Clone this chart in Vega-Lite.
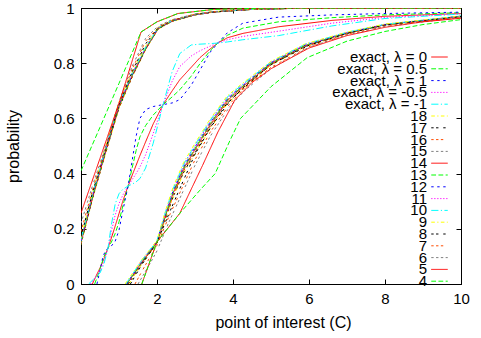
{
"$schema":"https://vega.github.io/schema/vega-lite/v6.json",
"width":380,"height":276,
"autosize":{"type":"none"},
"padding":{"left":81,"top":8,"right":20,"bottom":54},
"data":{"values":[
{"s":"exact, λ = 0","g":"B","x":0.3,"y":0},{"s":"exact, λ = 0","g":"B","x":0.4,"y":0.03},{"s":"exact, λ = 0","g":"B","x":0.5,"y":0.058},{"s":"exact, λ = 0","g":"B","x":0.6,"y":0.09},{"s":"exact, λ = 0","g":"B","x":0.71,"y":0.13},{"s":"exact, λ = 0","g":"B","x":0.8,"y":0.167},{"s":"exact, λ = 0","g":"B","x":0.9,"y":0.21},{"s":"exact, λ = 0","g":"B","x":1.0,"y":0.255},{"s":"exact, λ = 0","g":"B","x":1.1,"y":0.3},{"s":"exact, λ = 0","g":"B","x":1.24,"y":0.355},{"s":"exact, λ = 0","g":"B","x":1.35,"y":0.395},{"s":"exact, λ = 0","g":"B","x":1.45,"y":0.43},{"s":"exact, λ = 0","g":"B","x":1.55,"y":0.465},{"s":"exact, λ = 0","g":"B","x":1.7,"y":0.515},{"s":"exact, λ = 0","g":"B","x":1.9,"y":0.58},{"s":"exact, λ = 0","g":"B","x":2.16,"y":0.65},{"s":"exact, λ = 0","g":"B","x":2.4,"y":0.7},{"s":"exact, λ = 0","g":"B","x":2.6,"y":0.74},{"s":"exact, λ = 0","g":"B","x":2.9,"y":0.785},{"s":"exact, λ = 0","g":"B","x":3.13,"y":0.82},{"s":"exact, λ = 0","g":"B","x":3.4,"y":0.852},{"s":"exact, λ = 0","g":"B","x":3.6,"y":0.873},{"s":"exact, λ = 0","g":"B","x":3.85,"y":0.892},{"s":"exact, λ = 0","g":"B","x":4.26,"y":0.908},{"s":"exact, λ = 0","g":"B","x":5.2,"y":0.932},{"s":"exact, λ = 0","g":"B","x":6.6,"y":0.955},{"s":"exact, λ = 0","g":"B","x":8,"y":0.97},{"s":"exact, λ = 0","g":"B","x":10,"y":0.98},
{"s":"exact, λ = 0.5","g":"B","x":0.36,"y":0},{"s":"exact, λ = 0.5","g":"B","x":0.4,"y":0.015},{"s":"exact, λ = 0.5","g":"B","x":0.5,"y":0.054},{"s":"exact, λ = 0.5","g":"B","x":0.6,"y":0.098},{"s":"exact, λ = 0.5","g":"B","x":0.71,"y":0.13},{"s":"exact, λ = 0.5","g":"B","x":0.8,"y":0.152},{"s":"exact, λ = 0.5","g":"B","x":0.9,"y":0.183},{"s":"exact, λ = 0.5","g":"B","x":1.0,"y":0.225},{"s":"exact, λ = 0.5","g":"B","x":1.1,"y":0.283},{"s":"exact, λ = 0.5","g":"B","x":1.24,"y":0.355},{"s":"exact, λ = 0.5","g":"B","x":1.35,"y":0.423},{"s":"exact, λ = 0.5","g":"B","x":1.45,"y":0.483},{"s":"exact, λ = 0.5","g":"B","x":1.55,"y":0.533},{"s":"exact, λ = 0.5","g":"B","x":1.7,"y":0.574},{"s":"exact, λ = 0.5","g":"B","x":1.9,"y":0.612},{"s":"exact, λ = 0.5","g":"B","x":2.16,"y":0.65},{"s":"exact, λ = 0.5","g":"B","x":2.4,"y":0.678},{"s":"exact, λ = 0.5","g":"B","x":2.6,"y":0.704},{"s":"exact, λ = 0.5","g":"B","x":2.9,"y":0.753},{"s":"exact, λ = 0.5","g":"B","x":3.13,"y":0.798},{"s":"exact, λ = 0.5","g":"B","x":3.4,"y":0.846},{"s":"exact, λ = 0.5","g":"B","x":3.6,"y":0.873},{"s":"exact, λ = 0.5","g":"B","x":3.85,"y":0.901},{"s":"exact, λ = 0.5","g":"B","x":4.26,"y":0.927},{"s":"exact, λ = 0.5","g":"B","x":5.2,"y":0.95},{"s":"exact, λ = 0.5","g":"B","x":6.6,"y":0.965},{"s":"exact, λ = 0.5","g":"B","x":8,"y":0.975},{"s":"exact, λ = 0.5","g":"B","x":10,"y":0.983},
{"s":"exact, λ = 1","g":"B","x":0.42,"y":0},{"s":"exact, λ = 1","g":"B","x":0.5,"y":0.05},{"s":"exact, λ = 1","g":"B","x":0.58,"y":0.1},{"s":"exact, λ = 1","g":"B","x":0.65,"y":0.122},{"s":"exact, λ = 1","g":"B","x":0.71,"y":0.13},{"s":"exact, λ = 1","g":"B","x":0.8,"y":0.138},{"s":"exact, λ = 1","g":"B","x":0.9,"y":0.155},{"s":"exact, λ = 1","g":"B","x":1.0,"y":0.195},{"s":"exact, λ = 1","g":"B","x":1.1,"y":0.265},{"s":"exact, λ = 1","g":"B","x":1.24,"y":0.355},{"s":"exact, λ = 1","g":"B","x":1.35,"y":0.45},{"s":"exact, λ = 1","g":"B","x":1.45,"y":0.535},{"s":"exact, λ = 1","g":"B","x":1.55,"y":0.6},{"s":"exact, λ = 1","g":"B","x":1.7,"y":0.632},{"s":"exact, λ = 1","g":"B","x":1.9,"y":0.643},{"s":"exact, λ = 1","g":"B","x":2.16,"y":0.65},{"s":"exact, λ = 1","g":"B","x":2.4,"y":0.656},{"s":"exact, λ = 1","g":"B","x":2.6,"y":0.668},{"s":"exact, λ = 1","g":"B","x":2.9,"y":0.72},{"s":"exact, λ = 1","g":"B","x":3.13,"y":0.775},{"s":"exact, λ = 1","g":"B","x":3.4,"y":0.84},{"s":"exact, λ = 1","g":"B","x":3.6,"y":0.873},{"s":"exact, λ = 1","g":"B","x":3.85,"y":0.91},{"s":"exact, λ = 1","g":"B","x":4.26,"y":0.945},{"s":"exact, λ = 1","g":"B","x":5.2,"y":0.967},{"s":"exact, λ = 1","g":"B","x":6.6,"y":0.975},{"s":"exact, λ = 1","g":"B","x":8,"y":0.98},{"s":"exact, λ = 1","g":"B","x":10,"y":0.985},
{"s":"exact, λ = -0.5","g":"B","x":0.25,"y":0},{"s":"exact, λ = -0.5","g":"B","x":0.35,"y":0.018},{"s":"exact, λ = -0.5","g":"B","x":0.5,"y":0.049},{"s":"exact, λ = -0.5","g":"B","x":0.6,"y":0.08},{"s":"exact, λ = -0.5","g":"B","x":0.71,"y":0.13},{"s":"exact, λ = -0.5","g":"B","x":0.8,"y":0.191},{"s":"exact, λ = -0.5","g":"B","x":0.9,"y":0.25},{"s":"exact, λ = -0.5","g":"B","x":1.0,"y":0.291},{"s":"exact, λ = -0.5","g":"B","x":1.1,"y":0.322},{"s":"exact, λ = -0.5","g":"B","x":1.24,"y":0.355},{"s":"exact, λ = -0.5","g":"B","x":1.35,"y":0.379},{"s":"exact, λ = -0.5","g":"B","x":1.45,"y":0.4},{"s":"exact, λ = -0.5","g":"B","x":1.55,"y":0.424},{"s":"exact, λ = -0.5","g":"B","x":1.7,"y":0.468},{"s":"exact, λ = -0.5","g":"B","x":1.9,"y":0.545},{"s":"exact, λ = -0.5","g":"B","x":2.16,"y":0.65},{"s":"exact, λ = -0.5","g":"B","x":2.4,"y":0.735},{"s":"exact, λ = -0.5","g":"B","x":2.6,"y":0.788},{"s":"exact, λ = -0.5","g":"B","x":2.9,"y":0.826},{"s":"exact, λ = -0.5","g":"B","x":3.13,"y":0.845},{"s":"exact, λ = -0.5","g":"B","x":3.4,"y":0.862},{"s":"exact, λ = -0.5","g":"B","x":3.6,"y":0.873},{"s":"exact, λ = -0.5","g":"B","x":3.85,"y":0.885},{"s":"exact, λ = -0.5","g":"B","x":4.26,"y":0.897},{"s":"exact, λ = -0.5","g":"B","x":5.2,"y":0.916},{"s":"exact, λ = -0.5","g":"B","x":6.6,"y":0.945},{"s":"exact, λ = -0.5","g":"B","x":8,"y":0.966},{"s":"exact, λ = -0.5","g":"B","x":10,"y":0.979},
{"s":"exact, λ = -1","g":"B","x":0.2,"y":0},{"s":"exact, λ = -1","g":"B","x":0.35,"y":0.02},{"s":"exact, λ = -1","g":"B","x":0.5,"y":0.04},{"s":"exact, λ = -1","g":"B","x":0.6,"y":0.07},{"s":"exact, λ = -1","g":"B","x":0.71,"y":0.13},{"s":"exact, λ = -1","g":"B","x":0.8,"y":0.215},{"s":"exact, λ = -1","g":"B","x":0.9,"y":0.29},{"s":"exact, λ = -1","g":"B","x":1.0,"y":0.327},{"s":"exact, λ = -1","g":"B","x":1.1,"y":0.343},{"s":"exact, λ = -1","g":"B","x":1.24,"y":0.355},{"s":"exact, λ = -1","g":"B","x":1.35,"y":0.362},{"s":"exact, λ = -1","g":"B","x":1.45,"y":0.37},{"s":"exact, λ = -1","g":"B","x":1.55,"y":0.382},{"s":"exact, λ = -1","g":"B","x":1.7,"y":0.42},{"s":"exact, λ = -1","g":"B","x":1.9,"y":0.51},{"s":"exact, λ = -1","g":"B","x":2.16,"y":0.65},{"s":"exact, λ = -1","g":"B","x":2.4,"y":0.77},{"s":"exact, λ = -1","g":"B","x":2.6,"y":0.835},{"s":"exact, λ = -1","g":"B","x":2.9,"y":0.866},{"s":"exact, λ = -1","g":"B","x":3.13,"y":0.869},{"s":"exact, λ = -1","g":"B","x":3.4,"y":0.871},{"s":"exact, λ = -1","g":"B","x":3.6,"y":0.873},{"s":"exact, λ = -1","g":"B","x":3.85,"y":0.877},{"s":"exact, λ = -1","g":"B","x":4.26,"y":0.885},{"s":"exact, λ = -1","g":"B","x":5.2,"y":0.9},{"s":"exact, λ = -1","g":"B","x":6.6,"y":0.935},{"s":"exact, λ = -1","g":"B","x":8,"y":0.962},{"s":"exact, λ = -1","g":"B","x":10,"y":0.978},

{"s":"18","g":"A","x":0,"y":0.143},{"s":"18","g":"A","x":0.3,"y":0.306},{"s":"18","g":"A","x":0.65,"y":0.474},{"s":"18","g":"A","x":1.0,"y":0.636},{"s":"18","g":"A","x":1.35,"y":0.751},{"s":"18","g":"A","x":1.7,"y":0.849},{"s":"18","g":"A","x":2.03,"y":0.923},{"s":"18","g":"A","x":2.4,"y":0.951},{"s":"18","g":"A","x":3,"y":0.975},{"s":"18","g":"A","x":3.5,"y":0.985},{"s":"18","g":"A","x":4.5,"y":0.995},{"s":"18","g":"A","x":6,"y":1},{"s":"18","g":"A","x":10,"y":1},
{"s":"18","g":"C","x":1.26,"y":0},{"s":"18","g":"C","x":1.6,"y":0.072},{"s":"18","g":"C","x":2.0,"y":0.148},{"s":"18","g":"C","x":2.2,"y":0.226},{"s":"18","g":"C","x":2.42,"y":0.311},{"s":"18","g":"C","x":2.7,"y":0.401},{"s":"18","g":"C","x":3.0,"y":0.471},{"s":"18","g":"C","x":3.4,"y":0.563},{"s":"18","g":"C","x":3.84,"y":0.651},{"s":"18","g":"C","x":4.2,"y":0.699},{"s":"18","g":"C","x":5,"y":0.793},{"s":"18","g":"C","x":5.9,"y":0.86},{"s":"18","g":"C","x":7,"y":0.907},{"s":"18","g":"C","x":8,"y":0.938},{"s":"18","g":"C","x":10,"y":0.969},

{"s":"17","g":"A","x":0,"y":0.145},{"s":"17","g":"A","x":0.3,"y":0.308},{"s":"17","g":"A","x":0.65,"y":0.476},{"s":"17","g":"A","x":1.0,"y":0.638},{"s":"17","g":"A","x":1.35,"y":0.752},{"s":"17","g":"A","x":1.7,"y":0.85},{"s":"17","g":"A","x":2.03,"y":0.924},{"s":"17","g":"A","x":2.4,"y":0.952},{"s":"17","g":"A","x":3,"y":0.975},{"s":"17","g":"A","x":3.5,"y":0.985},{"s":"17","g":"A","x":4.5,"y":0.995},{"s":"17","g":"A","x":6,"y":1},{"s":"17","g":"A","x":10,"y":1},
{"s":"17","g":"C","x":1.24,"y":0},{"s":"17","g":"C","x":1.6,"y":0.074},{"s":"17","g":"C","x":2.0,"y":0.149},{"s":"17","g":"C","x":2.2,"y":0.229},{"s":"17","g":"C","x":2.42,"y":0.315},{"s":"17","g":"C","x":2.7,"y":0.405},{"s":"17","g":"C","x":3.0,"y":0.475},{"s":"17","g":"C","x":3.4,"y":0.567},{"s":"17","g":"C","x":3.84,"y":0.654},{"s":"17","g":"C","x":4.2,"y":0.701},{"s":"17","g":"C","x":5,"y":0.795},{"s":"17","g":"C","x":5.9,"y":0.861},{"s":"17","g":"C","x":7,"y":0.908},{"s":"17","g":"C","x":8,"y":0.939},{"s":"17","g":"C","x":10,"y":0.969},

{"s":"16","g":"A","x":0,"y":0.147},{"s":"16","g":"A","x":0.3,"y":0.31},{"s":"16","g":"A","x":0.65,"y":0.478},{"s":"16","g":"A","x":1.0,"y":0.64},{"s":"16","g":"A","x":1.35,"y":0.753},{"s":"16","g":"A","x":1.7,"y":0.85},{"s":"16","g":"A","x":2.03,"y":0.924},{"s":"16","g":"A","x":2.4,"y":0.952},{"s":"16","g":"A","x":3,"y":0.975},{"s":"16","g":"A","x":3.5,"y":0.986},{"s":"16","g":"A","x":4.5,"y":0.995},{"s":"16","g":"A","x":6,"y":1},{"s":"16","g":"A","x":10,"y":1},
{"s":"16","g":"C","x":1.23,"y":0},{"s":"16","g":"C","x":1.6,"y":0.076},{"s":"16","g":"C","x":2.0,"y":0.15},{"s":"16","g":"C","x":2.2,"y":0.232},{"s":"16","g":"C","x":2.42,"y":0.319},{"s":"16","g":"C","x":2.7,"y":0.409},{"s":"16","g":"C","x":3.0,"y":0.479},{"s":"16","g":"C","x":3.4,"y":0.57},{"s":"16","g":"C","x":3.84,"y":0.657},{"s":"16","g":"C","x":4.2,"y":0.703},{"s":"16","g":"C","x":5,"y":0.796},{"s":"16","g":"C","x":5.9,"y":0.862},{"s":"16","g":"C","x":7,"y":0.908},{"s":"16","g":"C","x":8,"y":0.939},{"s":"16","g":"C","x":10,"y":0.969},

{"s":"15","g":"A","x":0,"y":0.149},{"s":"15","g":"A","x":0.3,"y":0.312},{"s":"15","g":"A","x":0.65,"y":0.48},{"s":"15","g":"A","x":1.0,"y":0.642},{"s":"15","g":"A","x":1.35,"y":0.755},{"s":"15","g":"A","x":1.7,"y":0.851},{"s":"15","g":"A","x":2.03,"y":0.925},{"s":"15","g":"A","x":2.4,"y":0.952},{"s":"15","g":"A","x":3,"y":0.976},{"s":"15","g":"A","x":3.5,"y":0.986},{"s":"15","g":"A","x":4.5,"y":0.995},{"s":"15","g":"A","x":6,"y":1},{"s":"15","g":"A","x":10,"y":1},
{"s":"15","g":"C","x":1.22,"y":0},{"s":"15","g":"C","x":1.6,"y":0.077},{"s":"15","g":"C","x":2.0,"y":0.151},{"s":"15","g":"C","x":2.2,"y":0.235},{"s":"15","g":"C","x":2.42,"y":0.323},{"s":"15","g":"C","x":2.7,"y":0.413},{"s":"15","g":"C","x":3.0,"y":0.483},{"s":"15","g":"C","x":3.4,"y":0.574},{"s":"15","g":"C","x":3.84,"y":0.66},{"s":"15","g":"C","x":4.2,"y":0.706},{"s":"15","g":"C","x":5,"y":0.798},{"s":"15","g":"C","x":5.9,"y":0.863},{"s":"15","g":"C","x":7,"y":0.909},{"s":"15","g":"C","x":8,"y":0.939},{"s":"15","g":"C","x":10,"y":0.97},

{"s":"14","g":"A","x":0,"y":0.151},{"s":"14","g":"A","x":0.3,"y":0.314},{"s":"14","g":"A","x":0.65,"y":0.482},{"s":"14","g":"A","x":1.0,"y":0.644},{"s":"14","g":"A","x":1.35,"y":0.756},{"s":"14","g":"A","x":1.7,"y":0.852},{"s":"14","g":"A","x":2.03,"y":0.926},{"s":"14","g":"A","x":2.4,"y":0.953},{"s":"14","g":"A","x":3,"y":0.976},{"s":"14","g":"A","x":3.5,"y":0.986},{"s":"14","g":"A","x":4.5,"y":0.995},{"s":"14","g":"A","x":6,"y":1},{"s":"14","g":"A","x":10,"y":1},
{"s":"14","g":"C","x":1.21,"y":0},{"s":"14","g":"C","x":1.6,"y":0.079},{"s":"14","g":"C","x":2.0,"y":0.152},{"s":"14","g":"C","x":2.2,"y":0.238},{"s":"14","g":"C","x":2.42,"y":0.327},{"s":"14","g":"C","x":2.7,"y":0.417},{"s":"14","g":"C","x":3.0,"y":0.487},{"s":"14","g":"C","x":3.4,"y":0.577},{"s":"14","g":"C","x":3.84,"y":0.663},{"s":"14","g":"C","x":4.2,"y":0.708},{"s":"14","g":"C","x":5,"y":0.799},{"s":"14","g":"C","x":5.9,"y":0.864},{"s":"14","g":"C","x":7,"y":0.91},{"s":"14","g":"C","x":8,"y":0.94},{"s":"14","g":"C","x":10,"y":0.97},

{"s":"13","g":"A","x":0,"y":0.153},{"s":"13","g":"A","x":0.3,"y":0.316},{"s":"13","g":"A","x":0.65,"y":0.484},{"s":"13","g":"A","x":1.0,"y":0.646},{"s":"13","g":"A","x":1.35,"y":0.758},{"s":"13","g":"A","x":1.7,"y":0.853},{"s":"13","g":"A","x":2.03,"y":0.926},{"s":"13","g":"A","x":2.4,"y":0.953},{"s":"13","g":"A","x":3,"y":0.976},{"s":"13","g":"A","x":3.5,"y":0.986},{"s":"13","g":"A","x":4.5,"y":0.995},{"s":"13","g":"A","x":6,"y":1},{"s":"13","g":"A","x":10,"y":1},
{"s":"13","g":"C","x":1.2,"y":0},{"s":"13","g":"C","x":1.6,"y":0.08},{"s":"13","g":"C","x":2.0,"y":0.153},{"s":"13","g":"C","x":2.2,"y":0.241},{"s":"13","g":"C","x":2.42,"y":0.331},{"s":"13","g":"C","x":2.7,"y":0.421},{"s":"13","g":"C","x":3.0,"y":0.491},{"s":"13","g":"C","x":3.4,"y":0.581},{"s":"13","g":"C","x":3.84,"y":0.666},{"s":"13","g":"C","x":4.2,"y":0.711},{"s":"13","g":"C","x":5,"y":0.8},{"s":"13","g":"C","x":5.9,"y":0.865},{"s":"13","g":"C","x":7,"y":0.91},{"s":"13","g":"C","x":8,"y":0.94},{"s":"13","g":"C","x":10,"y":0.97},

{"s":"12","g":"A","x":0,"y":0.156},{"s":"12","g":"A","x":0.3,"y":0.319},{"s":"12","g":"A","x":0.65,"y":0.487},{"s":"12","g":"A","x":1.0,"y":0.649},{"s":"12","g":"A","x":1.35,"y":0.76},{"s":"12","g":"A","x":1.7,"y":0.855},{"s":"12","g":"A","x":2.03,"y":0.927},{"s":"12","g":"A","x":2.4,"y":0.954},{"s":"12","g":"A","x":3,"y":0.976},{"s":"12","g":"A","x":3.5,"y":0.986},{"s":"12","g":"A","x":4.5,"y":0.995},{"s":"12","g":"A","x":6,"y":1},{"s":"12","g":"A","x":10,"y":1},
{"s":"12","g":"C","x":1.2,"y":0},{"s":"12","g":"C","x":1.6,"y":0.082},{"s":"12","g":"C","x":2.0,"y":0.154},{"s":"12","g":"C","x":2.2,"y":0.244},{"s":"12","g":"C","x":2.42,"y":0.335},{"s":"12","g":"C","x":2.7,"y":0.425},{"s":"12","g":"C","x":3.0,"y":0.495},{"s":"12","g":"C","x":3.4,"y":0.585},{"s":"12","g":"C","x":3.84,"y":0.669},{"s":"12","g":"C","x":4.2,"y":0.713},{"s":"12","g":"C","x":5,"y":0.802},{"s":"12","g":"C","x":5.9,"y":0.866},{"s":"12","g":"C","x":7,"y":0.911},{"s":"12","g":"C","x":8,"y":0.94},{"s":"12","g":"C","x":10,"y":0.97},

{"s":"11","g":"A","x":0,"y":0.159},{"s":"11","g":"A","x":0.3,"y":0.322},{"s":"11","g":"A","x":0.65,"y":0.49},{"s":"11","g":"A","x":1.0,"y":0.652},{"s":"11","g":"A","x":1.35,"y":0.762},{"s":"11","g":"A","x":1.7,"y":0.857},{"s":"11","g":"A","x":2.03,"y":0.928},{"s":"11","g":"A","x":2.4,"y":0.954},{"s":"11","g":"A","x":3,"y":0.977},{"s":"11","g":"A","x":3.5,"y":0.986},{"s":"11","g":"A","x":4.5,"y":0.995},{"s":"11","g":"A","x":6,"y":1},{"s":"11","g":"A","x":10,"y":1},
{"s":"11","g":"C","x":1.19,"y":0},{"s":"11","g":"C","x":1.6,"y":0.084},{"s":"11","g":"C","x":2.0,"y":0.155},{"s":"11","g":"C","x":2.2,"y":0.247},{"s":"11","g":"C","x":2.42,"y":0.339},{"s":"11","g":"C","x":2.7,"y":0.429},{"s":"11","g":"C","x":3.0,"y":0.499},{"s":"11","g":"C","x":3.4,"y":0.588},{"s":"11","g":"C","x":3.84,"y":0.672},{"s":"11","g":"C","x":4.2,"y":0.715},{"s":"11","g":"C","x":5,"y":0.803},{"s":"11","g":"C","x":5.9,"y":0.867},{"s":"11","g":"C","x":7,"y":0.911},{"s":"11","g":"C","x":8,"y":0.941},{"s":"11","g":"C","x":10,"y":0.97},

{"s":"10","g":"A","x":0,"y":0.163},{"s":"10","g":"A","x":0.3,"y":0.326},{"s":"10","g":"A","x":0.65,"y":0.494},{"s":"10","g":"A","x":1.0,"y":0.656},{"s":"10","g":"A","x":1.35,"y":0.765},{"s":"10","g":"A","x":1.7,"y":0.858},{"s":"10","g":"A","x":2.03,"y":0.929},{"s":"10","g":"A","x":2.4,"y":0.955},{"s":"10","g":"A","x":3,"y":0.977},{"s":"10","g":"A","x":3.5,"y":0.987},{"s":"10","g":"A","x":4.5,"y":0.995},{"s":"10","g":"A","x":6,"y":1},{"s":"10","g":"A","x":10,"y":1},
{"s":"10","g":"C","x":1.18,"y":0},{"s":"10","g":"C","x":1.6,"y":0.086},{"s":"10","g":"C","x":2.0,"y":0.157},{"s":"10","g":"C","x":2.2,"y":0.251},{"s":"10","g":"C","x":2.42,"y":0.344},{"s":"10","g":"C","x":2.7,"y":0.434},{"s":"10","g":"C","x":3.0,"y":0.504},{"s":"10","g":"C","x":3.4,"y":0.593},{"s":"10","g":"C","x":3.84,"y":0.676},{"s":"10","g":"C","x":4.2,"y":0.718},{"s":"10","g":"C","x":5,"y":0.805},{"s":"10","g":"C","x":5.9,"y":0.869},{"s":"10","g":"C","x":7,"y":0.912},{"s":"10","g":"C","x":8,"y":0.941},{"s":"10","g":"C","x":10,"y":0.971},

{"s":"9","g":"A","x":0,"y":0.168},{"s":"9","g":"A","x":0.3,"y":0.331},{"s":"9","g":"A","x":0.65,"y":0.499},{"s":"9","g":"A","x":1.0,"y":0.661},{"s":"9","g":"A","x":1.35,"y":0.768},{"s":"9","g":"A","x":1.7,"y":0.861},{"s":"9","g":"A","x":2.03,"y":0.931},{"s":"9","g":"A","x":2.4,"y":0.956},{"s":"9","g":"A","x":3,"y":0.978},{"s":"9","g":"A","x":3.5,"y":0.987},{"s":"9","g":"A","x":4.5,"y":0.995},{"s":"9","g":"A","x":6,"y":1},{"s":"9","g":"A","x":10,"y":1},
{"s":"9","g":"C","x":1.16,"y":0},{"s":"9","g":"C","x":1.6,"y":0.088},{"s":"9","g":"C","x":2.0,"y":0.158},{"s":"9","g":"C","x":2.2,"y":0.255},{"s":"9","g":"C","x":2.42,"y":0.35},{"s":"9","g":"C","x":2.7,"y":0.44},{"s":"9","g":"C","x":3.0,"y":0.51},{"s":"9","g":"C","x":3.4,"y":0.598},{"s":"9","g":"C","x":3.84,"y":0.68},{"s":"9","g":"C","x":4.2,"y":0.722},{"s":"9","g":"C","x":5,"y":0.807},{"s":"9","g":"C","x":5.9,"y":0.87},{"s":"9","g":"C","x":7,"y":0.913},{"s":"9","g":"C","x":8,"y":0.942},{"s":"9","g":"C","x":10,"y":0.971},

{"s":"8","g":"A","x":0,"y":0.172},{"s":"8","g":"A","x":0.3,"y":0.33},{"s":"8","g":"A","x":0.65,"y":0.49},{"s":"8","g":"A","x":1.0,"y":0.65},{"s":"8","g":"A","x":1.35,"y":0.77},{"s":"8","g":"A","x":1.7,"y":0.87},{"s":"8","g":"A","x":2.03,"y":0.928},{"s":"8","g":"A","x":2.4,"y":0.955},{"s":"8","g":"A","x":3,"y":0.977},{"s":"8","g":"A","x":3.5,"y":0.986},{"s":"8","g":"A","x":4.5,"y":0.995},{"s":"8","g":"A","x":6,"y":1},{"s":"8","g":"A","x":10,"y":1},
{"s":"8","g":"C","x":1.3,"y":0},{"s":"8","g":"C","x":1.6,"y":0.07},{"s":"8","g":"C","x":2.0,"y":0.15},{"s":"8","g":"C","x":2.3,"y":0.25},{"s":"8","g":"C","x":2.55,"y":0.33},{"s":"8","g":"C","x":3.0,"y":0.47},{"s":"8","g":"C","x":3.4,"y":0.565},{"s":"8","g":"C","x":3.9,"y":0.66},{"s":"8","g":"C","x":4.3,"y":0.715},{"s":"8","g":"C","x":5,"y":0.795},{"s":"8","g":"C","x":6,"y":0.865},{"s":"8","g":"C","x":7,"y":0.908},{"s":"8","g":"C","x":8,"y":0.938},{"s":"8","g":"C","x":10,"y":0.969},

{"s":"7","g":"A","x":0,"y":0.19},{"s":"7","g":"A","x":0.3,"y":0.34},{"s":"7","g":"A","x":0.65,"y":0.495},{"s":"7","g":"A","x":1.0,"y":0.655},{"s":"7","g":"A","x":1.35,"y":0.78},{"s":"7","g":"A","x":1.7,"y":0.88},{"s":"7","g":"A","x":2.03,"y":0.93},{"s":"7","g":"A","x":2.4,"y":0.956},{"s":"7","g":"A","x":3,"y":0.977},{"s":"7","g":"A","x":3.5,"y":0.987},{"s":"7","g":"A","x":4.5,"y":0.995},{"s":"7","g":"A","x":6,"y":1},{"s":"7","g":"A","x":10,"y":1},
{"s":"7","g":"C","x":1.42,"y":0},{"s":"7","g":"C","x":1.7,"y":0.07},{"s":"7","g":"C","x":2.0,"y":0.14},{"s":"7","g":"C","x":2.3,"y":0.24},{"s":"7","g":"C","x":2.6,"y":0.33},{"s":"7","g":"C","x":3.0,"y":0.45},{"s":"7","g":"C","x":3.4,"y":0.55},{"s":"7","g":"C","x":3.9,"y":0.65},{"s":"7","g":"C","x":4.3,"y":0.71},{"s":"7","g":"C","x":5,"y":0.785},{"s":"7","g":"C","x":6,"y":0.86},{"s":"7","g":"C","x":7,"y":0.905},{"s":"7","g":"C","x":8,"y":0.935},{"s":"7","g":"C","x":10,"y":0.968},

{"s":"6","g":"A","x":0,"y":0.22},{"s":"6","g":"A","x":0.3,"y":0.355},{"s":"6","g":"A","x":0.65,"y":0.5},{"s":"6","g":"A","x":1.0,"y":0.66},{"s":"6","g":"A","x":1.35,"y":0.79},{"s":"6","g":"A","x":1.7,"y":0.89},{"s":"6","g":"A","x":2.03,"y":0.935},{"s":"6","g":"A","x":2.4,"y":0.958},{"s":"6","g":"A","x":3,"y":0.978},{"s":"6","g":"A","x":3.5,"y":0.987},{"s":"6","g":"A","x":4.5,"y":0.996},{"s":"6","g":"A","x":6,"y":1},{"s":"6","g":"A","x":10,"y":1},
{"s":"6","g":"C","x":1.5,"y":0},{"s":"6","g":"C","x":1.8,"y":0.07},{"s":"6","g":"C","x":2.0,"y":0.12},{"s":"6","g":"C","x":2.3,"y":0.22},{"s":"6","g":"C","x":2.6,"y":0.31},{"s":"6","g":"C","x":3.0,"y":0.43},{"s":"6","g":"C","x":3.4,"y":0.535},{"s":"6","g":"C","x":3.9,"y":0.64},{"s":"6","g":"C","x":4.3,"y":0.7},{"s":"6","g":"C","x":5,"y":0.78},{"s":"6","g":"C","x":6,"y":0.858},{"s":"6","g":"C","x":7,"y":0.903},{"s":"6","g":"C","x":8,"y":0.933},{"s":"6","g":"C","x":10,"y":0.966},

{"s":"5","g":"A","x":0,"y":0.257},{"s":"5","g":"A","x":0.5,"y":0.455},{"s":"5","g":"A","x":1.03,"y":0.667},{"s":"5","g":"A","x":1.58,"y":0.913},{"s":"5","g":"A","x":2.0,"y":0.95},{"s":"5","g":"A","x":2.55,"y":0.98},{"s":"5","g":"A","x":3.5,"y":0.995},{"s":"5","g":"A","x":5,"y":1},{"s":"5","g":"A","x":10,"y":1},
{"s":"5","g":"C","x":1.6,"y":0},{"s":"5","g":"C","x":2.0,"y":0.153},{"s":"5","g":"C","x":2.6,"y":0.256},{"s":"5","g":"C","x":2.75,"y":0.3},{"s":"5","g":"C","x":3.2,"y":0.43},{"s":"5","g":"C","x":3.6,"y":0.55},{"s":"5","g":"C","x":4.05,"y":0.667},{"s":"5","g":"C","x":4.5,"y":0.73},{"s":"5","g":"C","x":5,"y":0.78},{"s":"5","g":"C","x":6,"y":0.855},{"s":"5","g":"C","x":7,"y":0.9},{"s":"5","g":"C","x":8,"y":0.93},{"s":"5","g":"C","x":9,"y":0.95},{"s":"5","g":"C","x":10,"y":0.963},

{"s":"4","g":"A","x":0,"y":0.41},{"s":"4","g":"A","x":0.5,"y":0.568},{"s":"4","g":"A","x":1.0,"y":0.727},{"s":"4","g":"A","x":1.58,"y":0.913},{"s":"4","g":"A","x":2.0,"y":0.95},{"s":"4","g":"A","x":2.55,"y":0.98},{"s":"4","g":"A","x":3.5,"y":0.995},{"s":"4","g":"A","x":5,"y":1},{"s":"4","g":"A","x":10,"y":1},
{"s":"4","g":"C","x":1.6,"y":0},{"s":"4","g":"C","x":2.0,"y":0.153},{"s":"4","g":"C","x":2.6,"y":0.256},{"s":"4","g":"C","x":3.13,"y":0.34},{"s":"4","g":"C","x":3.53,"y":0.4},{"s":"4","g":"C","x":3.92,"y":0.52},{"s":"4","g":"C","x":4.2,"y":0.6},{"s":"4","g":"C","x":5,"y":0.715},{"s":"4","g":"C","x":5.95,"y":0.82},{"s":"4","g":"C","x":7,"y":0.88},{"s":"4","g":"C","x":8,"y":0.915},{"s":"4","g":"C","x":9,"y":0.94},{"s":"4","g":"C","x":10,"y":0.958}
]},
"layer":[
{"mark":{"type":"line","strokeWidth":1,"clip":true},
 "encoding":{
  "x":{"field":"x","type":"quantitative","scale":{"domain":[0,10],"nice":false,"zero":false},
       "axis":{"orient":"bottom","values":[0,2,4,6,8,10],"tickSize":-5,"labelPadding":12,"labelFlush":false,"title":"point of interest (C)","titleX":202,"titleAlign":"center","titleY":38,"titleBaseline":"middle"}},
  "y":{"field":"y","type":"quantitative","scale":{"domain":[0,1],"nice":false,"zero":false},
       "axis":{"orient":"left","values":[0,0.2,0.4,0.6,0.8,1],"format":"~g","tickSize":-5,"labelPadding":12,"labelFlush":false,"title":"probability","titleX":-68,"titleY":138,"titleAlign":"center","titleBaseline":"middle","titleAngle":-90}},
  "color":{"field":"s","type":"nominal",
    "scale":{"domain":["exact, λ = 0","exact, λ = 0.5","exact, λ = 1","exact, λ = -0.5","exact, λ = -1","18","17","16","15","14","13","12","11","10","9","8","7","6","5","4"],
             "range":["#ff0000","#00ff00","#0000ff","#ff00ff","#00ffff","#ffff00","#000000","#ff4c00","#808080","#ff0000","#00ff00","#0000ff","#ff00ff","#00ffff","#ffff00","#000000","#ff4c00","#808080","#ff0000","#00ff00"]},
    "legend":{"orient":"none","legendX":351,"legendY":41.5,"title":null,
      "values":["exact, λ = 0","exact, λ = 1","exact, λ = -1","17","15","13","11","9","7","5"],
      "labelAlign":"right","labelOffset":-20,"symbolType":"M-1.65,0H1.65","symbolSize":100,"symbolStrokeWidth":1,"symbolOpacity":1,"labelFontSize":15,"labelFont":"Liberation Sans","labelColor":"#000","rowPadding":7.6,"padding":0,"labelLimit":0}},
  "strokeDash":{"field":"s","type":"nominal",
    "scale":{"domain":["exact, λ = 0","exact, λ = 0.5","exact, λ = 1","exact, λ = -0.5","exact, λ = -1","18","17","16","15","14","13","12","11","10","9","8","7","6","5","4"],
             "range":[[1,0],[4.8,2.4],[2.4,3.6],[1.2,1.8],[7.2,2.4,1.2,2.4],[3.6,2.4,1.2,2.4],[2.4,2.4,2.4,4.8],[2.4,2.4,2.4,2.4,2.4,4.8],[2.4,2.4,2.4,2.4,2.4,2.4,2.4,4.8],[1,0],[4.8,2.4],[2.4,3.6],[1.2,1.8],[7.2,2.4,1.2,2.4],[3.6,2.4,1.2,2.4],[2.4,2.4,2.4,4.8],[2.4,2.4,2.4,2.4,2.4,4.8],[2.4,2.4,2.4,2.4,2.4,2.4,2.4,4.8],[1,0],[4.8,2.4]]},
    "legend":{"orient":"none","legendX":351,"legendY":41.5,"title":null,
      "values":["exact, λ = 0","exact, λ = 1","exact, λ = -1","17","15","13","11","9","7","5"],
      "labelAlign":"right","labelOffset":-20,"symbolType":"M-1.65,0H1.65","symbolSize":100,"symbolStrokeWidth":1,"symbolOpacity":1,"labelFontSize":15,"labelFont":"Liberation Sans","labelColor":"#000","rowPadding":7.6,"padding":0,"labelLimit":0}},
  "detail":{"field":"g","type":"nominal"}
 }},
{"mark":{"type":"line","strokeWidth":1,"opacity":0},
 "encoding":{
  "x":{"field":"x","type":"quantitative","scale":{"domain":[0,10],"nice":false,"zero":false},
       "axis":{"orient":"top","values":[0,2,4,6,8,10],"tickSize":-5,"labels":false,"domain":false,"title":null}},
  "y":{"field":"y","type":"quantitative","scale":{"domain":[0,1],"nice":false,"zero":false},
       "axis":{"orient":"right","values":[0,0.2,0.4,0.6,0.8,1],"tickSize":-5,"labels":false,"domain":false,"title":null}},
  "color":{"field":"s","type":"nominal",
    "legend":{"orient":"none","legendX":351,"legendY":53.3,"title":null,
      "values":["exact, λ = 0.5","exact, λ = -0.5","18","16","14","12","10","8","6","4"],
      "labelAlign":"right","labelOffset":-20,"symbolType":"M-1.65,0H1.65","symbolSize":100,"symbolStrokeWidth":1,"symbolOpacity":1,"labelFontSize":15,"labelFont":"Liberation Sans","labelColor":"#000","rowPadding":7.6,"padding":0,"labelLimit":0}},
  "strokeDash":{"field":"s","type":"nominal",
    "legend":{"orient":"none","legendX":351,"legendY":53.3,"title":null,
      "values":["exact, λ = 0.5","exact, λ = -0.5","18","16","14","12","10","8","6","4"],
      "labelAlign":"right","labelOffset":-20,"symbolType":"M-1.65,0H1.65","symbolSize":100,"symbolStrokeWidth":1,"symbolOpacity":1,"labelFontSize":15,"labelFont":"Liberation Sans","labelColor":"#000","rowPadding":7.6,"padding":0,"labelLimit":0}},
  "detail":{"field":"g","type":"nominal"}
 }}
],
"resolve":{"axis":{"x":"independent","y":"independent"},"legend":{"color":"independent","strokeDash":"independent"}},
"config":{
 "font":"Liberation Sans",
 "view":{"stroke":"#000","strokeWidth":1},
 "axis":{"grid":false,"domainColor":"#000","domainWidth":1,"tickColor":"#000","tickWidth":1,"labelColor":"#000","labelFontSize":15,"titleFontSize":16,"titleFontWeight":"normal","titleColor":"#000","labelFont":"Liberation Sans","titleFont":"Liberation Sans"}
}
}
